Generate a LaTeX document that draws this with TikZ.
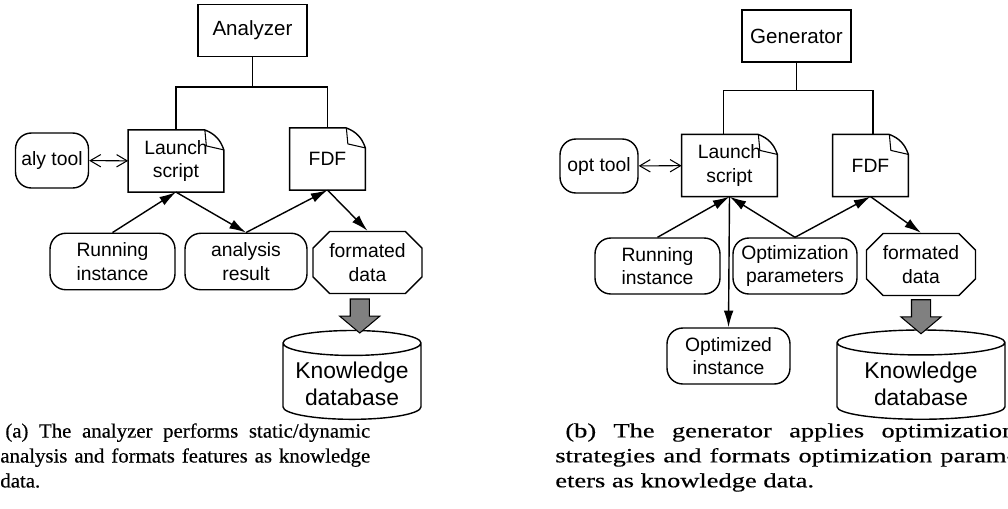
\documentclass[tikz,border=0pt]{standalone}
\usepackage{fontspec}
\setmainfont{Liberation Sans}
\newfontfamily\capfonta[FakeStretch=1.03,FakeBold=0.4]{Liberation Serif}
\newfontfamily\capfontb[FakeStretch=1.31,FakeBold=0.4]{Liberation Serif}
\usetikzlibrary{arrows.meta,shapes.geometric,shapes.misc,shapes.arrows,calc}

% outline of a script/file with a folded corner
\newcommand{\docframe}[1]{%
  \draw[line width=0.8pt] ([xshift=-0.38cm]#1.north east) -- (#1.north west)
    -- (#1.south west) -- (#1.south east) -- ([yshift=-0.4cm]#1.north east)
    to[bend right=25] ([xshift=-0.38cm]#1.north east);
  \draw[line width=0.6pt] ([xshift=-0.38cm]#1.north east)
    -- ([xshift=-0.35cm,yshift=-0.32cm]#1.north east)
    -- ([yshift=-0.4cm]#1.north east);
}

\begin{document}
\begin{tikzpicture}[x=0.02cm, y=-0.02cm,
  every node/.style={font=\fontsize{11}{13.5}\selectfont, align=center},
  headbox/.style={draw, line width=0.8pt, minimum width=2.18cm, minimum height=1.03cm, font=\fontsize{11.7}{13.5}\selectfont},
  roundbox/.style={draw, line width=0.8pt, rounded corners=9pt, minimum height=1.13cm},
  docbox/.style={minimum width=1.9cm, minimum height=1.23cm},
  chambox/.style={draw, line width=0.8pt, chamfered rectangle, chamfered rectangle xsep=6pt, minimum height=1.18cm},
  dbcyl/.style={draw, line width=0.8pt, fill=white, cylinder, shape border rotate=90, aspect=0.2, minimum height=1.68cm, font=\fontsize{13}{15.5}\selectfont},
  flow/.style={line width=0.8pt, -{Latex[length=9.5pt,width=5.5pt]}},
  tooluse/.style={line width=0.6pt, {Straight Barb[length=6pt,width=7pt]}-{Straight Barb[length=6pt,width=7pt]}},
  tree/.style={line width=0.8pt},
  bigarrow/.style={single arrow, draw, line width=0.6pt, fill=gray, rotate=-90, inner sep=0.18cm, minimum height=0.68cm, single arrow head extend=0.21cm, single arrow tip angle=100}
]
\useasboundingbox (0,0) rectangle (1008,508);

% (a) analyzer
\node[headbox] (anaA) at (252.5,30.5) {Analyzer};
\node[roundbox, minimum width=1.4cm, minimum height=1.1cm] (alyA) at (52,160.5) {aly tool};
\node[docbox] (launchA) at (176,161) {Launch\\script};
\node[docbox, minimum width=1.5cm] (fdfA) at (327.5,159) {FDF};
\node[roundbox, minimum width=2.5cm] (runA) at (112.5,261.5) {Running\\instance};
\node[roundbox, minimum width=2.44cm] (resA) at (246,261.5) {analysis\\result};
\node[chambox, minimum width=2.1cm] (fmtA) at (367.5,262.5) {formated\\data};
\node[dbcyl, minimum width=2.76cm] (kdbA) at (352,384) {Knowledge\\database};
\docframe{launchA}
\docframe{fdfA}

\coordinate (busA) at ([yshift=-0.6cm]anaA.south);
\draw[tree] (anaA.south) -- (busA);
\draw[tree] (launchA.north) |- (busA) -| (fdfA.north);
\draw[tooluse] (alyA) -- (launchA);
\draw[flow] (runA.north) -- (launchA.south);
\draw[flow] (launchA.south) -- (resA.north);
\draw[flow] (resA.north) -- (fdfA.south);
\draw[flow] (fdfA.south) -- (fmtA.north);
\node[bigarrow] (pushA) at ($(fmtA.south)!0.5!(kdbA.north)$) {};

% (b) generator
\node[headbox, minimum height=1.04cm] (genB) at (796.5,36) {Generator};
\node[roundbox, minimum width=1.56cm, minimum height=1.08cm] (optB) at (599,166) {opt tool};
\node[docbox] (launchB) at (729.5,165.5) {Launch\\script};
\node[docbox, minimum width=1.5cm] (fdfB) at (870.5,165.5) {FDF};
\node[roundbox, minimum width=2.5cm, minimum height=1.12cm] (runB) at (657.5,266) {Running\\instance};
\node[roundbox, minimum width=2.48cm, minimum height=1.12cm] (parB) at (795,266) {Optimization\\parameters};
\node[chambox, minimum width=2.16cm] (fmtB) at (921,264.5) {formated\\data};
\node[roundbox, minimum width=2.46cm, minimum height=1.12cm] (instB) at (728.5,356) {Optimized\\instance};
\node[dbcyl, minimum width=3.36cm] (kdbB) at (921,383.5) {Knowledge\\database};
\docframe{launchB}
\docframe{fdfB}

\coordinate (busB) at ([yshift=-0.56cm]genB.south);
\draw[tree] (genB.south) -- (busB);
\draw[tree] ([xshift=-0.12cm]launchB.north) |- (busB) -| ([xshift=0.05cm]fdfB.north);
\draw[tooluse] (optB) -- (launchB);
\draw[flow] (runB.north) -- (launchB.south);
\draw[flow] (launchB.south) -- (instB.north);
\draw[flow] (parB.north) -- (launchB.south);
\draw[flow] (parB.north) -- (fdfB.south);
\draw[flow] (fdfB.south) -- (fmtB.north);
\node[bigarrow] (pushB) at ($(fmtB.south)!0.5!(kdbB.north)$) {};

% captions
\node[anchor=north west, inner sep=0pt, text width=7.4cm, align=justify,
  font=\capfonta\fontsize{11.5}{14.2}\selectfont] (capA) at (0,423)
  {\hspace*{0.1cm}(a) The analyzer performs static/dynamic\linebreak analysis and formats features as knowledge\linebreak data.};
\node[anchor=north west, inner sep=0pt, text width=9.2cm, align=justify,
  font=\capfontb\fontsize{11.5}{14.2}\selectfont] (capB) at (555,423)
  {\hspace*{0.2cm}(b) The generator applies optimization\linebreak strategies and formats optimization param-\linebreak eters as knowledge data.};
\end{tikzpicture}
\end{document}
